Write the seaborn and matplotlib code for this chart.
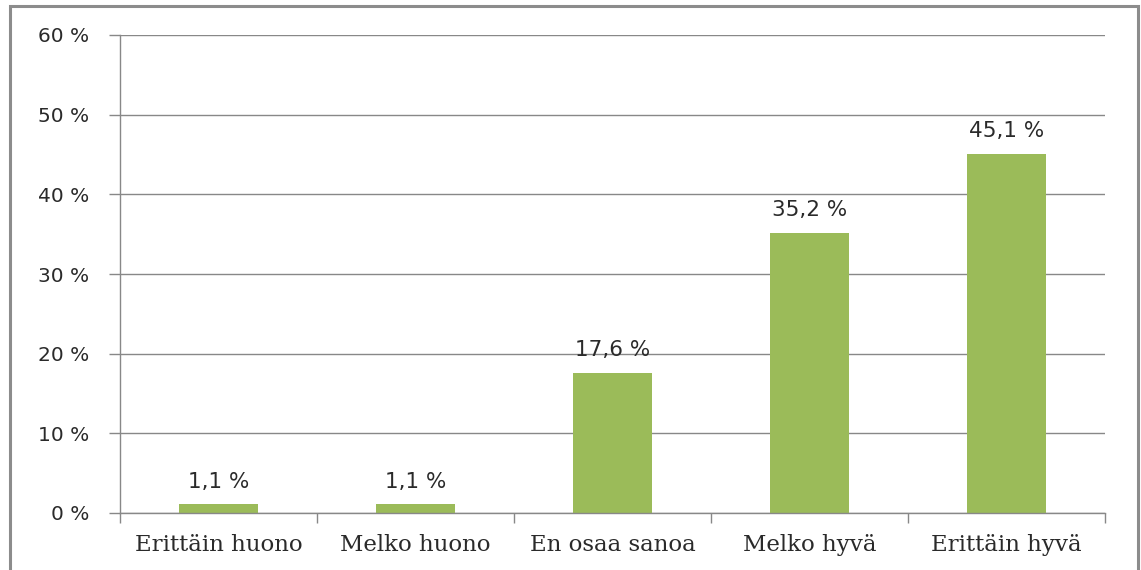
import matplotlib
matplotlib.use("Agg")
import matplotlib.pyplot as plt
import seaborn as sns
import pandas as pd
from matplotlib.patches import Rectangle

categories = ["Erittäin huono", "Melko huono", "En osaa sanoa", "Melko hyvä", "Erittäin hyvä"]
values = [1.1, 1.1, 17.6, 35.2, 45.1]
yticks = [0, 10, 20, 30, 40, 50, 60]

sns.set_theme(style="white")
plt.rcParams['font.family'] = ['DejaVu Sans']

df = pd.DataFrame({"cat": categories, "val": values})

fig = plt.figure(figsize=(11.41, 5.70), dpi=100)
ax = fig.add_axes([120/1141, 57/570, (1105-120)/1141, (513-35)/570])

sns.barplot(data=df, x="cat", y="val", color="#9BBB59", width=0.405, ax=ax,
            saturation=1, edgecolor="none")

grid_c = "#888888"
text_c = "#2a2a2a"
ax.set_xlim(-0.5, 4.5)
ax.set_ylim(0, 60)
ax.set_yticks(yticks)
ax.set_yticklabels([f"{v} %" for v in yticks], fontsize=14.5, color=text_c)
ax.yaxis.grid(True, color=grid_c, linewidth=1)
ax.set_axisbelow(True)
ax.tick_params(axis="y", length=8, color=grid_c, width=1, pad=14, left=True)
ax.set_xticks(range(len(categories)))
ax.set_xticklabels(categories, fontsize=16.5, family="DejaVu Serif", color=text_c)
ax.tick_params(axis="x", which="major", length=0, pad=15)
ax.set_xticks([i - 0.5 for i in range(len(categories) + 1)], minor=True)
ax.tick_params(axis="x", which="minor", length=7, color=grid_c, width=1, bottom=True)
ax.set_xlabel("")
ax.set_ylabel("")
for s in ["top", "right"]:
    ax.spines[s].set_visible(False)
for s in ["left", "bottom"]:
    ax.spines[s].set_color(grid_c)
    ax.spines[s].set_linewidth(1)

for i, v in enumerate(values):
    ax.annotate(f"{v:.1f} %".replace(".", ","), (i, v), xytext=(0, 9),
                textcoords="offset points", ha="center", va="bottom",
                fontsize=15.5, color=text_c)

fig.patches.append(Rectangle((9.5/1141, -0.1), (1138-9.5)/1141, 1.1 - 6.5/570,
                             transform=fig.transFigure, fill=False,
                             edgecolor="#8c8c8c", linewidth=2.2))

fig.savefig("out.png", dpi=100)
